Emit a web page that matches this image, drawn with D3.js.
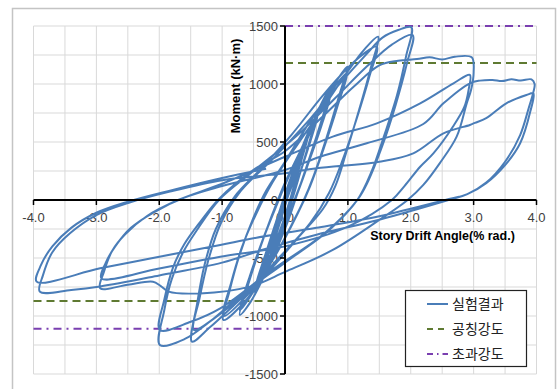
<!DOCTYPE html>
<html><head><meta charset="utf-8">
<script src="https://cdn.jsdelivr.net/npm/d3@7"></script>
<style>body{margin:0;background:#fff}</style>
</head><body>
<svg id="c" width="559" height="389"></svg>
<script>
// ---- data (drift %, moment kN·m) ----
const cycle025 = [
[0,0],[0.12,200],[0.25,400],[0.16,240],[0.03,0],[-0.1,-230],[-0.22,-430],[-0.12,-220],[0.03,50],
[0.15,240],[0.26,390],[0.15,200],[0.01,-20],[-0.12,-250],[-0.24,-450],[-0.1,-180],[0.06,60],
[0.14,220],[0.25,380],[0.14,170],[0.0,-40],[-0.13,-270],[-0.25,-460],[-0.11,-200],[0.05,40]];
const cycle0375 = [
[0.2,300],[0.38,590],[0.27,380],[0.12,80],[0.02,-120],[-0.15,-380],[-0.36,-640],[-0.24,-420],[-0.08,-130],[0.07,100],
[0.22,330],[0.38,570],[0.26,340],[0.06,-40],[-0.16,-380],[-0.36,-610],[-0.2,-320],[-0.04,-40],[0.1,160],
[0.25,380],[0.37,560],[0.25,320],[0.05,-50],[-0.17,-400],[-0.35,-600],[-0.19,-300],[-0.02,-10],[0.12,190]];
const cycle05 = [
[0.3,450],[0.53,770],[0.42,560],[0.25,250],[0.1,-20],[-0.1,-320],[-0.3,-600],[-0.48,-800],[-0.35,-560],[-0.18,-260],[0.0,50],[0.18,320],
[0.36,570],[0.52,730],[0.4,500],[0.22,200],[0.05,-70],[-0.2,-440],[-0.48,-760],[-0.33,-500],[-0.15,-200],[0.05,120],[0.25,400],
[0.51,720],[0.38,470],[0.2,170],[0.04,-80],[-0.22,-460],[-0.47,-740],[-0.31,-470],[-0.12,-160],[0.08,150],[0.28,430]];
const cycle075 = [
[0.5,740],[0.74,980],[0.6,720],[0.4,380],[0.2,60],[0.0,-250],[-0.3,-620],[-0.55,-880],[-0.72,-990],[-0.58,-720],[-0.4,-420],[-0.2,-120],[0.0,150],[0.25,430],
[0.5,720],[0.73,930],[0.6,680],[0.4,360],[0.18,30],[-0.05,-290],[-0.35,-650],[-0.72,-950],[-0.57,-680],[-0.38,-380],[-0.15,-60],[0.05,200],[0.3,480],
[0.55,760],[0.72,900],[0.58,640],[0.36,300],[0.15,0],[-0.1,-330],[-0.4,-690],[-0.7,-920],[-0.55,-640],[-0.35,-340],[-0.1,0],[0.1,250],[0.35,520]];
const cycle10 = [
[0.6,820],[0.8,1010],[0.99,1150],[0.85,880],[0.65,520],[0.45,200],[0.3,0],[0.1,-220],[-0.2,-520],[-0.6,-850],[-0.98,-1034],[-0.88,-780],[-0.72,-470],[-0.5,-150],[-0.3,80],[0.0,330],[0.4,680],
[0.75,950],[0.98,1090],[0.83,800],[0.62,450],[0.4,120],[0.2,-120],[-0.2,-520],[-0.6,-820],[-0.98,-1000],[-0.86,-720],[-0.68,-400],[-0.45,-110],[-0.2,150],[0.2,480],[0.6,790]];
const cycle15 = [
[1.0,1110],[1.25,1290],[1.48,1408],[1.36,1130],[1.18,780],[0.98,420],[0.8,120],[0.6,-80],[0.2,-330],[-0.3,-640],[-0.8,-900],[-1.2,-1100],[-1.48,-1221],
[-1.4,-900],[-1.28,-560],[-1.1,-250],[-0.8,30],[-0.4,260],[0.1,560],[0.6,900],[1.0,1140],[1.25,1260],[1.46,1322],
[1.34,1060],[1.14,700],[0.92,350],[0.7,60],[0.4,-200],[-0.1,-500],[-0.6,-790],[-1.1,-1010],[-1.45,-1121],
[-1.36,-850],[-1.22,-520],[-1.02,-200],[-0.7,80],[-0.2,350],[0.4,700],[0.9,1020],[1.3,1260]];
const cycle20 = [
[1.55,1400],[1.8,1465],[2.01,1489],[1.93,1250],[1.78,900],[1.58,560],[1.38,250],[1.15,0],[0.7,-260],[0.0,-540],[-0.7,-820],[-1.2,-1050],[-1.6,-1200],[-1.99,-1250],
[-1.92,-950],[-1.8,-680],[-1.62,-450],[-1.4,-259],[-1.05,0],[-0.5,250],[0.2,560],[0.8,880],[1.3,1150],[1.7,1340],[2.03,1422],
[1.94,1180],[1.76,820],[1.55,470],[1.32,160],[1.15,0],[0.6,-300],[-0.2,-600],[-1.03,-934],[-1.5,-1050],[-1.99,-1121],
[-1.92,-860],[-1.78,-580],[-1.6,-380],[-1.35,-190],[-1.05,10],[-0.5,260],[0.0,420],[0.6,720],[1.1,980],[1.5,1160],[1.8,1200]];
const cycle30 = [
[2.1,1215],[2.3,1230],[2.5,1212],[2.7,1235],[2.97,1230],[3.0,1100],[2.96,950],[2.89,833],[2.73,546],[2.46,316],[2.2,130],[1.95,0],[1.5,-172],[0.76,-431],[0.0,-620],[-0.56,-747],[-1.35,-805],[-1.85,-790],[-1.98,-740],[-2.1,-704],[-2.5,-730],[-2.94,-761],
[-2.88,-620],[-2.75,-440],[-2.55,-300],[-2.2,-140],[-1.7,0],[-1.0,140],[0.0,373],[0.76,546],[1.46,661],[2.15,833],[2.68,1006],[2.94,1078],
[2.92,950],[2.85,800],[2.67,632],[2.36,402],[2.15,287],[1.9,120],[1.7,0],[1.0,-230],[0.0,-400],[-1.03,-489],[-2.0,-590],[-2.92,-675],
[-2.85,-540],[-2.7,-400],[-2.45,-240],[-2.1,-110],[-1.6,20],[-1.0,120],[0.0,259],[0.56,373],[1.3,489],[2.2,655],[2.52,833],[2.94,1006]];
const cycle40 = [
[3.1,1029],[3.3,1035],[3.45,1025],[3.6,1040],[3.75,1030],[3.92,1040],[3.97,1000],[3.95,930],[3.88,800],[3.74,560],[3.5,330],[3.2,150],[2.9,50],[2.6,0],[1.5,-170],[0.5,-300],[-0.3,-420],[-1.0,-540],[-2.0,-650],[-2.94,-745],[-3.4,-775],[-3.9,-790],
[-3.85,-650],[-3.7,-450],[-3.42,-287],[-3.0,-130],[-2.46,-20],[-1.83,72],[-1.0,170],[0.0,230],[0.5,273],[1.5,330],[2.04,402],[2.52,575],[2.94,647],[3.02,665],[3.2,705],[3.52,833],[3.84,905],[3.95,920],
[3.9,760],[3.74,489],[3.5,300],[3.2,144],[2.9,50],[2.55,0],[1.5,-140],[0.5,-240],[-0.5,-330],[-1.03,-388],[-2.0,-490],[-2.94,-589],[-3.95,-704],
[-3.88,-560],[-3.7,-400],[-3.4,-240],[-3.0,-110],[-2.5,-15],[-1.8,85],[-1.0,190],[-0.3,270]];

const nominalStrength = [1180, -870];   // 공칭강도 (+, -)
const overStrength = [1500, -1110];     // 초과강도 (+, -)

const xTicks = [-4,-3,-2,-1,0,1,2,3,4];
const xTickLabels = ["-4.0","-3.0","-2.0","-1.0","0.0","1.0","2.0","3.0","4.0"];
const yTicks = [-1500,-1000,-500,0,500,1000,1500];
const yTickLabels = ["-1500","-1000","-500","0","500","1000","1500"];
const xGrid = [-4,-3.5,-3,-2.5,-2,-1.5,-1,-0.5,0,0.5,1,1.5,2,2.5,3,3.5,4];
const yGrid = [-1500,-1250,-1000,-750,-500,-250,0,250,500,750,1000,1250,1500];
const legendLabels = ["실험결과","공칭강도","초과강도"];

// ---- drawing ----
const svg = d3.select("#c");
const x = d3.scaleLinear().domain([-4,4]).range([33.5,536.5]);
const y = d3.scaleLinear().domain([-1500,1500]).range([374,26]);
const blue = "#4a7db8", olive = "#5f7a32", purple = "#7a3fb0";

svg.append("rect").attr("x",12.5).attr("y",8.5).attr("width",543).attr("height",400)
  .attr("fill","#fff").attr("stroke","#c4c4c4").attr("stroke-width",1.5);

const g = svg.append("g");
g.selectAll(".gx").data(xGrid).join("line")
  .attr("x1",d=>x(d)).attr("x2",d=>x(d)).attr("y1",y(1500)).attr("y2",y(-1500))
  .attr("stroke","#d9d9d9").attr("stroke-width",1);
g.selectAll(".gy").data(yGrid).join("line")
  .attr("y1",d=>y(d)).attr("y2",d=>y(d)).attr("x1",x(-4)).attr("x2",x(4))
  .attr("stroke","#d9d9d9").attr("stroke-width",1);

// tick labels (behind the curve)
const fontTick = "'Liberation Sans', Arial, sans-serif";
svg.selectAll(".xl").data(xTicks).join("text")
  .attr("x",d=>x(d)).attr("y",y(0)+22).attr("text-anchor","middle")
  .attr("font-family",fontTick).attr("font-size",13).attr("fill","#404040")
  .text((d,i)=>xTickLabels[i]);
svg.selectAll(".yl").data(yTicks).join("text")
  .attr("x",x(0)-7).attr("y",d=>y(d)).attr("dy","0.36em").attr("text-anchor","end")
  .attr("font-family",fontTick).attr("font-size",13).attr("fill","#404040")
  .text((d,i)=>yTickLabels[i]);

// reference lines
function refLine(v, x0, x1, color, dash){
  svg.append("line").attr("x1",x(x0)).attr("x2",x(x1)).attr("y1",y(v)).attr("y2",y(v))
    .attr("stroke",color).attr("stroke-width",2).attr("stroke-dasharray",dash);
}
refLine(nominalStrength[0], 0, 4, olive, "8,5");
refLine(nominalStrength[1], -4, 0, olive, "8,5");
refLine(overStrength[0], 0, 4, purple, "8,5,2,5");
refLine(overStrength[1], -4, 0, purple, "8,5,2,5");

// hysteresis curve
const hyst = [].concat(cycle025, cycle0375, cycle05, cycle075, cycle10, cycle15, cycle20, cycle30, cycle40);
const line = d3.line().x(d=>x(d[0])).y(d=>y(d[1])).curve(d3.curveCatmullRom.alpha(0.5));
svg.append("path").datum(hyst).attr("d",line).attr("fill","none")
  .attr("stroke",blue).attr("stroke-width",2).attr("stroke-linejoin","round");

// axes
const ax = svg.append("g");
ax.append("line").attr("x1",x(-4)).attr("x2",x(4)).attr("y1",y(0)).attr("y2",y(0))
  .attr("stroke","#000").attr("stroke-width",2);
ax.append("line").attr("x1",x(0)).attr("x2",x(0)).attr("y1",y(1500)).attr("y2",y(-1500))
  .attr("stroke","#000").attr("stroke-width",2);
ax.selectAll(".xt").data(xTicks.filter(d=>d!==0)).join("line")
  .attr("x1",d=>x(d)).attr("x2",d=>x(d)).attr("y1",y(0)).attr("y2",y(0)+5)
  .attr("stroke","#000").attr("stroke-width",1.5);
ax.selectAll(".yt").data(yTicks.filter(d=>d!==0)).join("line")
  .attr("x1",x(0)-5).attr("x2",x(0)).attr("y1",d=>y(d)).attr("y2",d=>y(d))
  .attr("stroke","#000").attr("stroke-width",1.5);

// axis titles
svg.append("text").attr("transform",`translate(${235+4.5},86) rotate(-90)`)
  .attr("text-anchor","middle").attr("font-family",fontTick).attr("font-weight","bold")
  .attr("font-size",13).attr("fill","#000").text("Moment (kN·m)");
svg.append("text").attr("x",442.5).attr("y",240).attr("text-anchor","middle")
  .attr("font-family",fontTick).attr("font-weight","bold")
  .attr("font-size",12.5).attr("fill","#000").text("Story Drift Angle(% rad.)");

// legend
const lg = svg.append("g");
lg.append("rect").attr("x",405.5).attr("y",290.5).attr("width",121).attr("height",76)
  .attr("fill","#fff").attr("stroke","#222").attr("stroke-width",1.2);
const ly = [304, 329, 354];
lg.append("line").attr("x1",427).attr("x2",448).attr("y1",ly[0]).attr("y2",ly[0])
  .attr("stroke",blue).attr("stroke-width",2);
lg.append("line").attr("x1",427).attr("x2",448).attr("y1",ly[1]).attr("y2",ly[1])
  .attr("stroke",olive).attr("stroke-width",2).attr("stroke-dasharray","6,5");
lg.append("line").attr("x1",427).attr("x2",448).attr("y1",ly[2]).attr("y2",ly[2])
  .attr("stroke",purple).attr("stroke-width",2).attr("stroke-dasharray","6,4,1.5,4");
lg.selectAll(".lt").data(legendLabels).join("text")
  .attr("x",452).attr("y",(d,i)=>ly[i]).attr("dy","0.36em")
  .attr("font-family","'Noto Sans CJK KR', sans-serif").attr("font-size",14).attr("fill","#222")
  .text(d=>d);
</script>
</body></html>
